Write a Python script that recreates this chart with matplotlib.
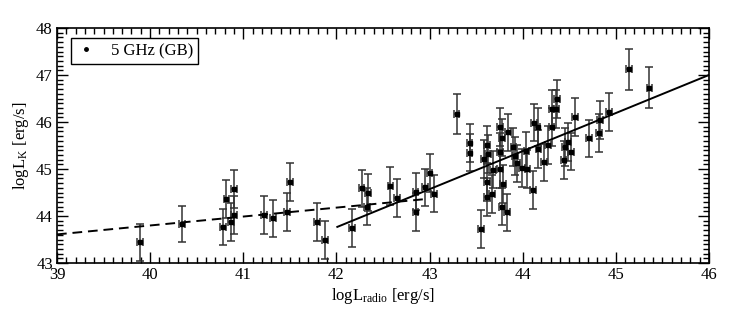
import matplotlib
matplotlib.use("Agg")
import matplotlib.pyplot as plt
from matplotlib.ticker import MultipleLocator
from matplotlib.lines import Line2D
import numpy as np

plt.rcParams['font.family'] = ['Liberation Serif', 'DejaVu Serif']
plt.rcParams['mathtext.fontset'] = 'custom'
plt.rcParams['mathtext.rm'] = 'Liberation Serif'
plt.rcParams['mathtext.it'] = 'Liberation Serif:italic'

log_l_radio = [39.89, 40.34, 40.78, 40.82, 40.90, 40.87, 40.90, 41.22, 41.32, 41.47,
               41.50, 41.79, 41.88, 42.17, 42.27, 42.34, 42.33, 42.58, 42.65, 42.85,
               42.85, 42.95, 43.00, 43.05, 43.29, 43.43, 43.43, 43.55, 43.58, 43.62,
               43.63, 43.62, 43.62, 43.67, 43.68, 43.76, 43.78, 43.76, 43.76, 43.79,
               43.78, 43.83, 43.84, 43.90, 43.92, 43.94, 43.99, 44.05, 44.04, 44.11,
               44.12, 44.16, 44.17, 44.23, 44.27, 44.31, 44.31, 44.36, 44.37, 44.45,
               44.44, 44.49, 44.52, 44.56, 44.71, 44.82, 44.83, 44.93, 45.14, 45.36]
log_l_k = [43.44, 43.83, 43.77, 44.36, 44.57, 43.88, 44.02, 44.02, 43.95, 44.09,
           44.72, 43.88, 43.49, 43.74, 44.59, 44.50, 44.20, 44.64, 44.38, 44.09,
           44.52, 44.61, 44.92, 44.48, 46.17, 45.55, 45.35, 43.72, 45.21, 45.51,
           45.32, 44.73, 44.41, 44.47, 44.99, 45.89, 45.67, 45.37, 45.00, 44.68,
           44.20, 44.08, 45.78, 45.47, 45.28, 45.12, 45.02, 45.00, 45.39, 44.55,
           45.99, 45.90, 45.42, 45.14, 45.51, 45.89, 46.28, 46.28, 46.49, 45.47,
           45.19, 45.58, 45.37, 46.11, 45.65, 45.77, 46.04, 46.21, 47.12, 46.73]
log_l_k_err = [0.39, 0.39, 0.39, 0.40, 0.40, 0.40, 0.40, 0.40, 0.40, 0.40,
               0.40, 0.40, 0.40, 0.40, 0.40, 0.40, 0.40, 0.40, 0.40, 0.40,
               0.40, 0.40, 0.40, 0.40, 0.42, 0.40, 0.40, 0.40, 0.40, 0.40,
               0.40, 0.40, 0.40, 0.40, 0.40, 0.40, 0.40, 0.40, 0.40, 0.40,
               0.40, 0.40, 0.40, 0.40, 0.40, 0.40, 0.40, 0.40, 0.40, 0.40,
               0.40, 0.40, 0.40, 0.40, 0.40, 0.40, 0.40, 0.40, 0.40, 0.40,
               0.40, 0.40, 0.40, 0.40, 0.40, 0.40, 0.40, 0.40, 0.43, 0.43]
log_l_radio_err = [0.03] * len(log_l_radio)

# fit lines (endpoints)
dashed_x = [39.0, 42.95]
dashed_y = [43.61, 44.36]
solid_x = [42.01, 46.0]
solid_y = [43.77, 47.0]

fig = plt.figure(figsize=(7.47, 3.24), dpi=100)
ax = fig.add_axes([0.0763, 0.188, 0.8727, 0.7256])

ax.errorbar(log_l_radio, log_l_k, yerr=log_l_k_err, xerr=log_l_radio_err,
            fmt='s', ms=3.2, mfc='black', mec='black', ecolor='#333333',
            elinewidth=1.1, capsize=2.8, capthick=1.1, zorder=3)
ax.plot(dashed_x, dashed_y, color='black', lw=1.4, ls=(0, (5, 3)), zorder=4)
ax.plot(solid_x, solid_y, color='black', lw=1.4, zorder=4)

ax.set_xlim(39, 46)
ax.set_ylim(43, 48)
ax.xaxis.set_major_locator(MultipleLocator(1))
ax.xaxis.set_minor_locator(MultipleLocator(0.1))
ax.yaxis.set_major_locator(MultipleLocator(1))
ax.yaxis.set_minor_locator(MultipleLocator(0.1))
ax.tick_params(which='both', direction='in', top=True, right=True, labelsize=12,
               width=1.0, colors='black')
ax.tick_params(which='major', length=8, pad=3)
ax.tick_params(which='minor', length=4)
for s in ax.spines.values():
    s.set_linewidth(1.2)

ax.set_xlabel(r'logL$_{\mathrm{radio}}$ [erg/s]', fontsize=12, labelpad=2)
ax.set_ylabel(r'logL$_{\mathrm{K}}$ [erg/s]', fontsize=12, labelpad=4)

handle = Line2D([], [], ls='none', marker='o', ms=2.5, color='black')
leg = ax.legend([handle], ['5 GHz (GB)'], loc='upper left', fontsize=12,
                frameon=True, fancybox=False, framealpha=1, edgecolor='black',
                handlelength=1.2, handletextpad=0.9, borderpad=0.3,
                borderaxespad=0, bbox_to_anchor=(0.021, 0.957))
leg.get_frame().set_linewidth(1.0)

fig.savefig('out.png', dpi=100)
